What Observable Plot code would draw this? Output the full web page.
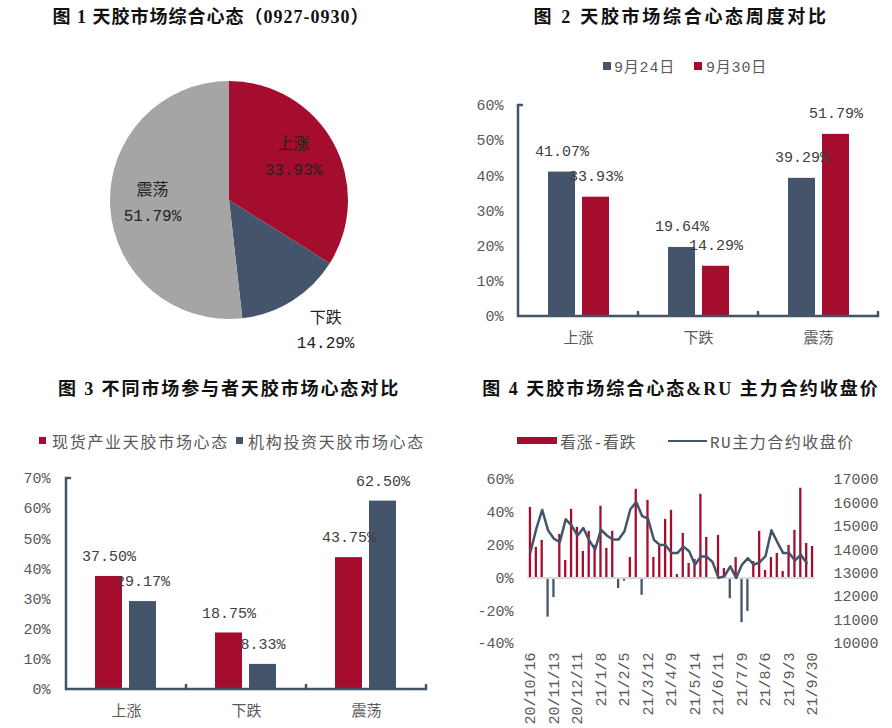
<!DOCTYPE html>
<html><head><meta charset="utf-8">
<script src="https://cdn.jsdelivr.net/npm/d3@7"></script>
<script src="https://cdn.jsdelivr.net/npm/@observablehq/plot@0.6"></script>
<style>
html,body{margin:0;padding:0;background:#fff;}
#root{position:relative;width:892px;height:728px;overflow:hidden;background:#fff;}
.abs{position:absolute;white-space:nowrap;}
.title{font-family:"Liberation Serif","Noto Sans CJK SC",serif;font-weight:bold;font-size:18px;color:#111;transform:translate(-50%,-50%);}
.lg{font-family:"Liberation Mono","Noto Sans CJK SC",monospace;color:#595959;transform:translateY(-50%);}
</style></head>
<body><div id="root"></div>
<script>
// ---------- data ----------
const pieCats = ["上涨", "下跌", "震荡"];
const pieValues = [33.93, 14.29, 51.79];

const weekCats = ["上涨", "下跌", "震荡"];
const week0924 = [41.07, 19.64, 39.29];
const week0930 = [33.93, 14.29, 51.79];
const weekSeries = ["9月24日", "9月30日"];

const partCats = ["上涨", "下跌", "震荡"];
const spotValues = [37.50, 18.75, 43.75];
const instValues = [29.17, 8.33, 62.50];
const partSeries = ["现货产业天胶市场心态", "机构投资天胶市场心态"];

const dates = ["20/10/16","20/10/23","20/10/30","20/11/6","20/11/13","20/11/20","20/11/27","20/12/4","20/12/11","20/12/18","20/12/25","20/12/31","21/1/8","21/1/15","21/1/22","21/1/29","21/2/5","21/2/19","21/2/26","21/3/5","21/3/12","21/3/19","21/3/26","21/4/2","21/4/9","21/4/16","21/4/23","21/4/30","21/5/14","21/5/21","21/5/28","21/6/4","21/6/11","21/6/18","21/6/25","21/7/2","21/7/9","21/7/16","21/7/23","21/7/30","21/8/6","21/8/13","21/8/20","21/8/27","21/9/3","21/9/10","21/9/17","21/9/24","21/9/30"];
const netValues = [43, 18.6, 22.9, -23.9, -12, 26.5, 10.6, 41.8, 30.8, 16.1, 28.4, 19.8, 43.7, 18, 28.4, -6.5, -2, 12.4, 54, -10.6, 47.3, 12.4, 19.8, 35.7, 41.2, 2, 27.1, 8.8, 11.2, 51, 24.7, 0, 25.9, 5.7, -12.7, 12.4, -27.3, -20.4, 10, 28.4, 4.5, 12.4, 14.9, 3.9, 19.8, 29, 54.7, 21, 19.2];
const ruPrices = [13900, 14900, 15700, 14830, 14470, 14330, 15300, 15040, 14600, 14930, 14400, 14010, 14860, 14610, 14440, 14440, 14790, 15730, 16040, 15440, 15330, 14430, 14210, 14190, 13860, 13860, 14140, 13940, 13360, 13710, 13710, 13470, 12800, 12870, 13290, 12800, 13370, 13640, 13360, 13470, 13730, 14830, 14330, 13860, 13860, 13540, 13790, 13440, null];
const tickDates = ["20/10/16","20/11/13","20/12/11","21/1/8","21/2/5","21/3/12","21/4/9","21/5/14","21/6/11","21/7/9","21/8/6","21/9/3","21/9/30"];
const leftTicks4 = [-40, -20, 0, 20, 40, 60];
const rightTicks4 = [10000, 11000, 12000, 13000, 14000, 15000, 16000, 17000];

// ---------- styles ----------
const FONT = '"Liberation Mono","Noto Sans CJK SC",monospace';
const RED = "#A50D2F", DARK = "#44546A", GRAY = "#A5A5A5";
const AXC = "#595959", LBL = "#404040";

const root = document.getElementById("root");
function place(el, x, y) { el.style.left = x + "px"; el.style.top = y + "px"; root.appendChild(el); return el; }
function title(text, cx, cy, ls) {
  const d = document.createElement("div"); d.className = "abs title"; d.textContent = text; d.style.letterSpacing = ls + "px"; place(d, cx, cy);
}
function legText(text, x, cy, size, ls) {
  const d = document.createElement("div"); d.className = "abs lg"; d.textContent = text; d.style.fontSize = size + "px"; d.style.letterSpacing = (ls||0) + "px"; place(d, x, cy);
}
function swatch(x, y, w, h, color) {
  const d = document.createElement("div"); d.className = "abs"; d.style.width = w + "px"; d.style.height = h + "px"; d.style.background = color; place(d, x, y);
}
function mount(svg, x, y) { svg.style.position = "absolute"; svg.style.left = x + "px"; svg.style.top = y + "px"; root.appendChild(svg); }

const baseStyle = {fontFamily: FONT, fontSize: "15px", color: AXC, background: "transparent", overflow: "visible"};

// ---------- panel 1: pie ----------
title("图 1 天胶市场综合心态（0927-0930）", 211, 15, 1);
const pieColors = [RED, DARK, GRAY];
const pieArcs = d3.pie().sort(null).value(d => d)(pieValues);
const labelK = [0.667, 1.338, 0.647];
const labelShift = [-7.3, -5, 3.9].map(a => a * Math.PI / 180);
const pieMark = (index, scales, values, dims) => {
  const sx = scales.x, sy = scales.y;
  const cx = sx(0), cy = sy(0), r = sx(1) - sx(0);
  const arc = d3.arc().innerRadius(0).outerRadius(r);
  const g = d3.create("svg:g").attr("transform", `translate(${cx},${cy})`);
  g.selectAll("path").data(pieArcs).join("path").attr("d", arc).attr("fill", (d, i) => pieColors[i]);
  return g.node();
};
const mids = pieArcs.map((a, i) => (a.startAngle + a.endAngle) / 2 + labelShift[i]);
const pie = Plot.plot({
  width: 446, height: 320, marginLeft: 110, marginRight: 98, marginTop: 41, marginBottom: 41,
  style: baseStyle,
  x: {domain: [-1, 1], axis: null}, y: {domain: [-1, 1], axis: null},
  marks: [
    pieMark,
    Plot.text(pieCats, {
      x: (d, i) => Math.sin(mids[i]) * labelK[i],
      y: (d, i) => Math.cos(mids[i]) * labelK[i],
      text: (d, i) => d + "\n" + pieValues[i].toFixed(2) + "%",
      fontSize: 16, lineHeight: 1.6, fill: "#222"
    })
  ]
});
mount(pie, 0, 40);

// ---------- shared bar frame ----------
function barFrame(n) {
  return (index, scales, values, dims) => {
    const x0 = dims.marginLeft, x1 = dims.width - dims.marginRight;
    const yb = dims.height - dims.marginBottom, yt = dims.marginTop;
    const g = d3.create("svg:g").attr("stroke", DARK).attr("stroke-width", 2.5).attr("stroke-linecap", "round");
    g.append("line").attr("x1", x0).attr("x2", x0).attr("y1", yt).attr("y2", yb);
    g.append("line").attr("x1", x0).attr("x2", x0 + 4).attr("y1", yt).attr("y2", yt);
    g.append("line").attr("x1", x0).attr("x2", x1).attr("y1", yb).attr("y2", yb);
    for (let i = 1; i <= n; i++) {
      const xx = x0 + (x1 - x0) * i / n;
      g.append("line").attr("x1", xx).attr("x2", xx).attr("y1", yb - 4).attr("y2", yb);
    }
    return g.node();
  };
}

// ---------- panel 2 ----------
title("图 2 天胶市场综合心态周度对比", 681, 15, 2.7);
swatch(603, 62, 8, 8, DARK); legText(weekSeries[0], 614, 66, 15, 0.8);
swatch(694, 62, 8, 8, RED); legText(weekSeries[1], 706, 66, 15, 0.8);
const p2 = Plot.plot({
  width: 446, height: 260, marginLeft: 72, marginRight: 14, marginTop: 15, marginBottom: 34,
  style: baseStyle,
  x: {domain: weekCats, padding: 0, tickSize: 0, tickPadding: 16, label: null},
  y: {domain: [0, 60], ticks: [0, 10, 20, 30, 40, 50, 60], tickFormat: d => d + "%", tickSize: 0, tickPadding: 15, label: null},
  marks: [
    Plot.barY(weekCats, {x: weekCats, y: week0924, fill: DARK, insetLeft: 30, insetRight: 63}),
    Plot.barY(weekCats, {x: weekCats, y: week0930, fill: RED, insetLeft: 64, insetRight: 29}),
    barFrame(3),
    Plot.text(weekCats, {x: weekCats, y: week0924, text: week0924.map(v => v.toFixed(2) + "%"), dx: -16.5, dy: -21, fontSize: 15, fill: LBL}),
    Plot.text(weekCats, {x: weekCats, y: week0930, text: week0930.map(v => v.toFixed(2) + "%"), dx: 17.5, dy: -21, fontSize: 15, fill: LBL})
  ]
});
mount(p2, 446, 90);

// ---------- panel 3 ----------
title("图 3 不同市场参与者天胶市场心态对比", 229, 387, 1.9);
swatch(39, 437, 7, 7, RED); legText(partSeries[0], 52, 441, 16, 1.7);
swatch(236, 437, 7, 7, DARK); legText(partSeries[1], 248, 441, 16, 1.7);
const p3 = Plot.plot({
  width: 446, height: 268, marginLeft: 66, marginRight: 20, marginTop: 18, marginBottom: 39,
  style: baseStyle,
  x: {domain: partCats, padding: 0, tickSize: 0, tickPadding: 16, label: null},
  y: {domain: [0, 70], ticks: [0, 10, 20, 30, 40, 50, 60, 70], tickFormat: d => d + "%", tickSize: 0, tickPadding: 16, label: null},
  marks: [
    Plot.barY(partCats, {x: partCats, y: spotValues, fill: RED, insetLeft: 29, insetRight: 64}),
    Plot.barY(partCats, {x: partCats, y: instValues, fill: DARK, insetLeft: 63, insetRight: 30}),
    barFrame(3),
    Plot.text(partCats, {x: partCats, y: spotValues, text: spotValues.map(v => v.toFixed(2) + "%"), dx: -17.5, dy: -20, fontSize: 15, fill: LBL}),
    Plot.text(partCats, {x: partCats, y: instValues, text: instValues.map(v => v.toFixed(2) + "%"), dx: 16.5, dy: -20, fontSize: 15, fill: LBL})
  ]
});
mount(p3, 0, 460);

// ---------- panel 4 ----------
title("图 4 天胶市场综合心态&RU 主力合约收盘价", 681, 387, 2);
swatch(517, 437, 40, 7, RED); legText("看涨-看跌", 560, 441, 16, 0.5);
swatch(668, 440, 39, 2, DARK); legText("RU主力合约收盘价", 710, 441, 16, 1.5);
const pMin = 10000, pMax = 17000, yMin = -40, yMax = 60;
const toPct = p => (p == null ? NaN : (p - pMin) / (pMax - pMin) * (yMax - yMin) + yMin);
const rows4 = dates.map((d, i) => ({date: d, v: netValues[i], p: ruPrices[i]}));
const p4 = Plot.plot({
  width: 446, height: 268, marginLeft: 81, marginRight: 77, marginTop: 19, marginBottom: 85,
  style: baseStyle,
  x: {domain: dates, padding: 0, tickRotate: -90, tickSize: 0, tickPadding: 9, tickFormat: d => tickDates.includes(d) ? d : "", label: null},
  y: {domain: [yMin, yMax], ticks: leftTicks4, tickFormat: d => d + "%", tickSize: 0, tickPadding: 14, label: null},
  marks: [
    Plot.barY(rows4.filter(d => d.v > 0), {x: "date", y: "v", fill: RED, insetLeft: 1.8, insetRight: 1.8}),
    Plot.barY(rows4.filter(d => d.v < 0), {x: "date", y: "v", fill: DARK, insetLeft: 1.8, insetRight: 1.8}),
    Plot.ruleY([0], {stroke: "#D9D9D9", strokeWidth: 2}),
    Plot.line(rows4, {x: "date", y: d => toPct(d.p), stroke: DARK, strokeWidth: 2.5}),
    Plot.text(rightTicks4, {y: d => toPct(d), text: d => String(d), frameAnchor: "right", textAnchor: "start", dx: 18, fontSize: 15, fill: AXC})
  ]
});
mount(p4, 446, 460);
</script>
</body></html>
